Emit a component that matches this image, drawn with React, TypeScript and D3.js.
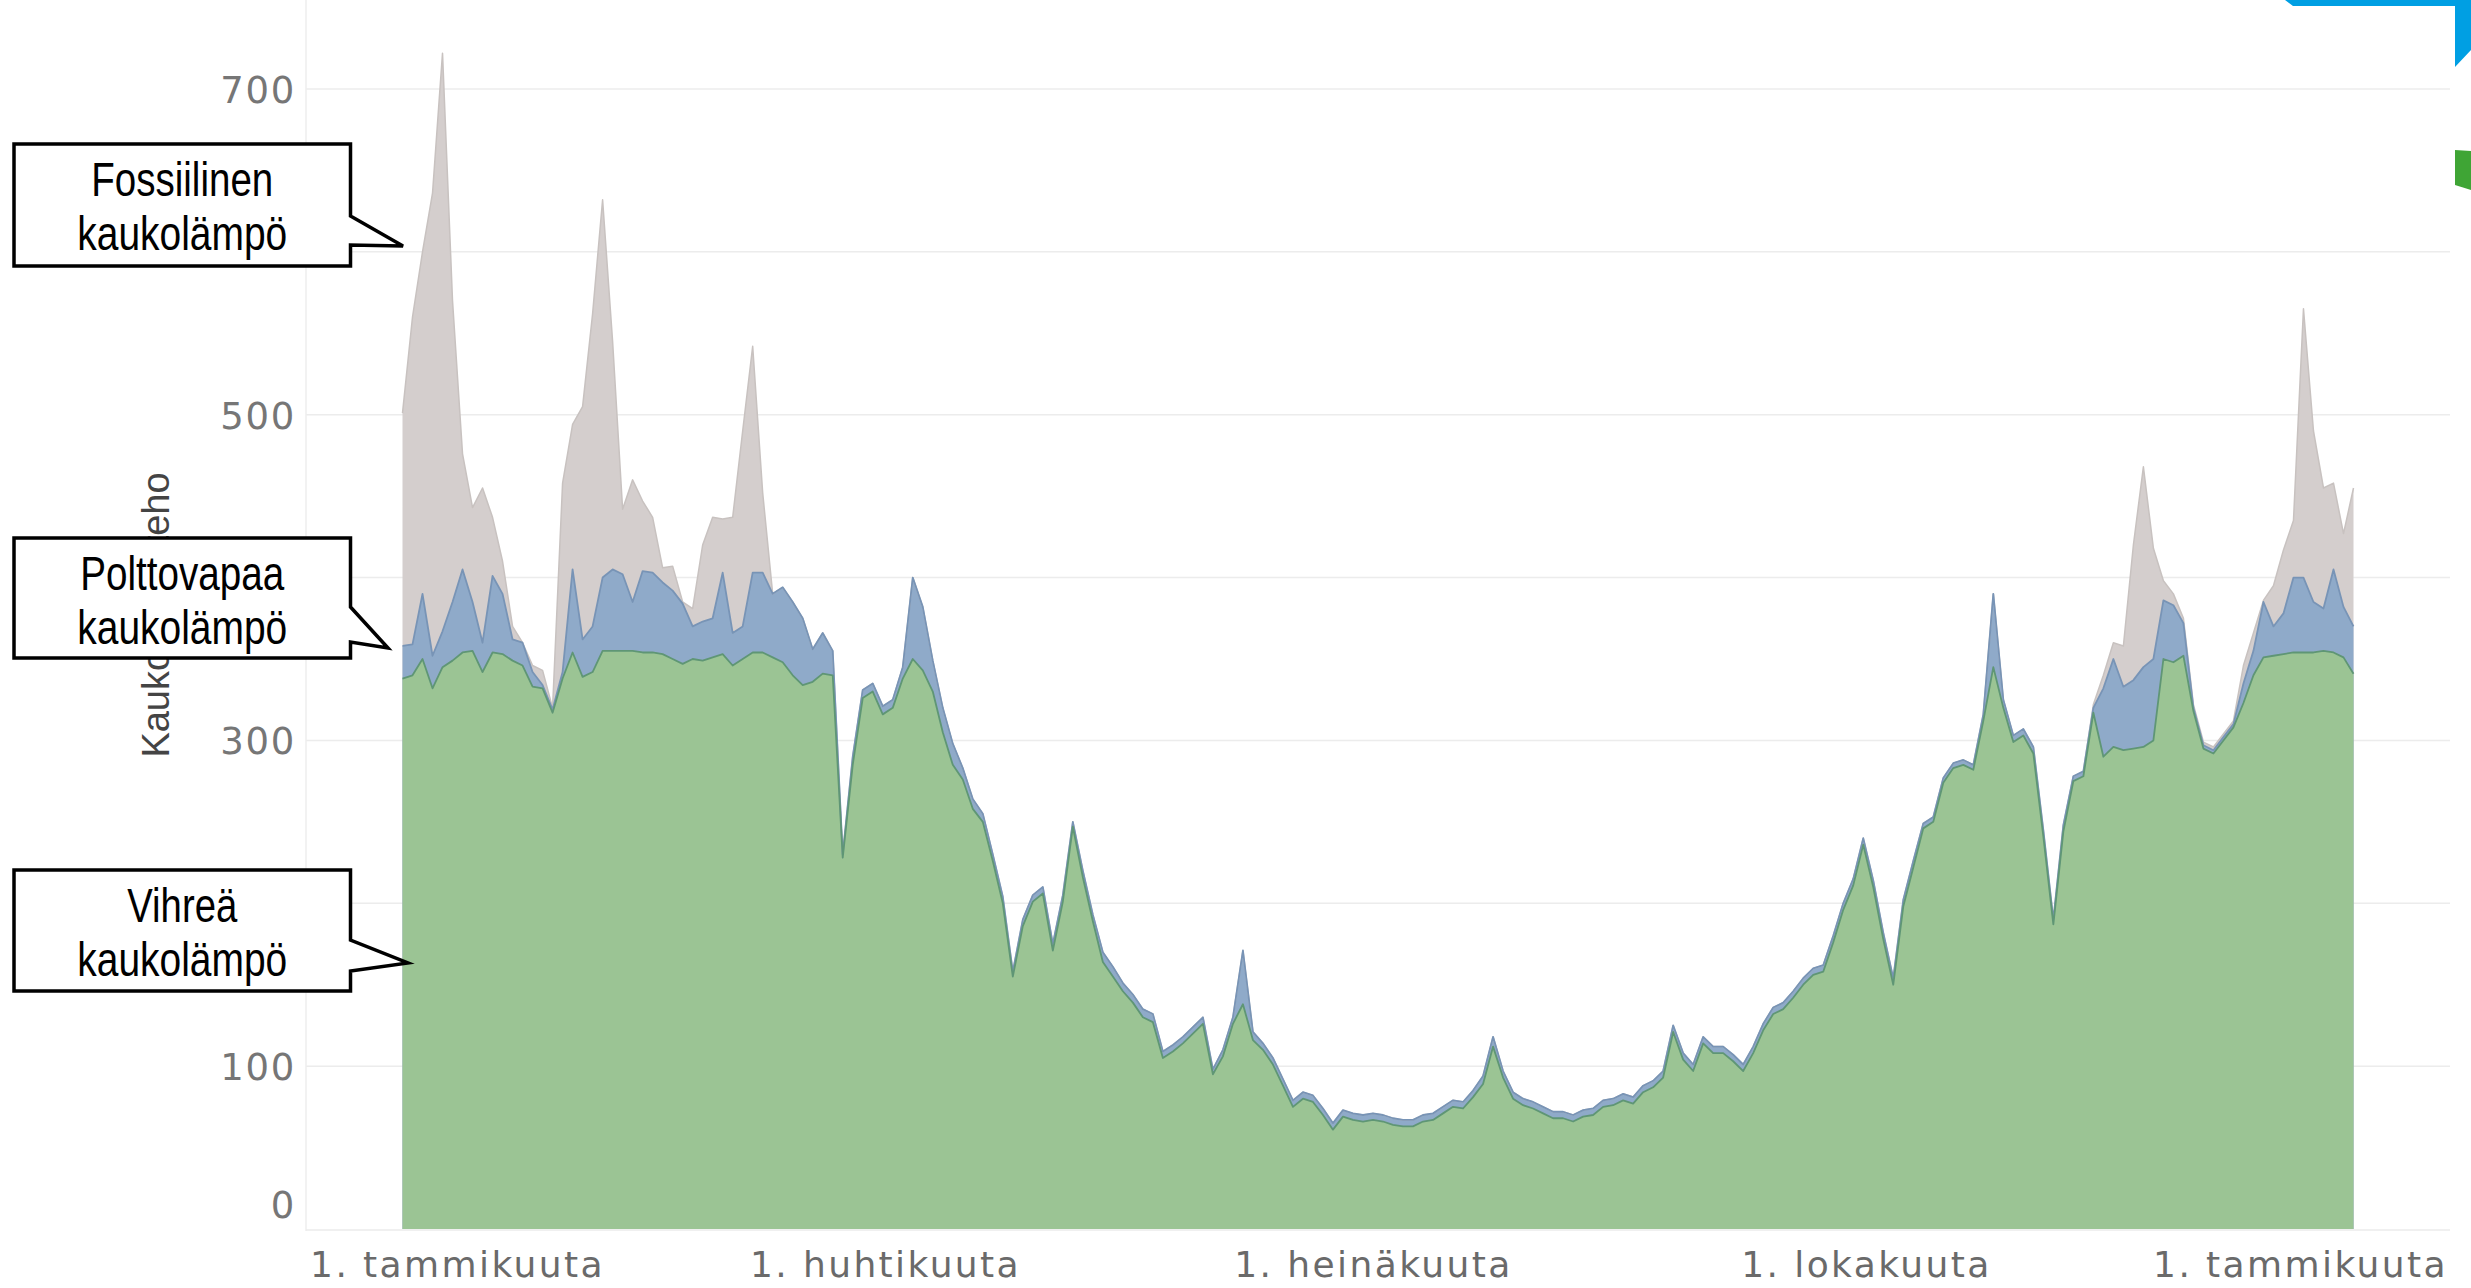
import React, { useEffect, useRef } from "react";
import * as d3 from "d3";

const W = 2471;
const H = 1288;

// Samples every ~2 days across the year (MW)
const vihrea = [
  338, 340, 350, 332, 345, 349, 354, 355, 342, 354,
  353, 349, 346, 333, 332, 317, 338, 354, 339, 342,
  355, 355, 355, 355, 354, 354, 353, 350, 347, 350,
  349, 351, 353, 346, 350, 354, 354, 351, 348, 340,
  334, 336, 341, 340, 228, 285, 326, 330, 316, 320,
  338, 350, 343, 330, 305, 285, 276, 258, 250, 226,
  200, 155, 186, 201, 206, 171, 201, 247, 216, 189,
  164, 155, 146, 139, 130, 127, 105, 109, 114, 120,
  126, 95, 106, 126, 138, 116, 110, 101, 88, 75,
  80, 78, 70, 61, 69, 67, 66, 67, 66, 64,
  63, 63, 66, 67, 71, 75, 74, 81, 89, 112,
  93, 80, 76, 74, 71, 68, 68, 66, 69, 70,
  75, 76, 79, 77, 84, 87, 93, 121, 104, 97,
  114, 108, 108, 103, 97, 108, 122, 132, 135, 142,
  150, 156, 158, 176, 196, 211, 236, 210, 178, 150,
  198, 222, 246, 250, 274, 283, 285, 282, 312, 345,
  320, 299, 303, 292, 241, 187, 244, 275, 278, 317,
  290, 296, 294, 295, 296, 300, 350, 348, 352, 318,
  295, 292, 300, 308, 323, 340, 351, 352, 353, 354,
  354, 354, 355, 354, 351, 341,
];

const polttovapaa = [
  20, 19, 40, 20, 22, 36, 51, 30, 18, 47,
  37, 13, 14, 9, 2, 2, 4, 51, 23, 28,
  45, 50, 47, 30, 50, 49, 44, 42, 37, 20,
  24, 24, 50, 20, 20, 49, 49, 39, 46, 45,
  41, 20, 25, 15, 2, 5, 5, 5, 5, 5,
  7, 50, 39, 19, 15, 13, 7, 6, 5, 4,
  4, 3, 4, 4, 4, 4, 4, 3, 4, 4,
  6, 6, 5, 5, 5, 5, 4, 4, 4, 4,
  4, 3, 4, 4, 33, 5, 4, 4, 4, 4,
  4, 4, 4, 4, 4, 4, 4, 4, 4, 4,
  4, 4, 4, 4, 4, 4, 4, 4, 5, 6,
  4, 4, 4, 4, 4, 4, 4, 4, 4, 4,
  4, 4, 4, 4, 4, 4, 4, 4, 4, 4,
  4, 4, 4, 4, 4, 4, 4, 4, 4, 4,
  4, 4, 4, 4, 4, 4, 4, 4, 4, 4,
  4, 4, 3, 3, 3, 3, 3, 3, 4, 45,
  5, 4, 4, 4, 4, 3, 4, 3, 3, 3,
  42, 54, 39, 42, 49, 50, 36, 35, 20, 2,
  2, 2, 2, 2, 12, 15, 34, 18, 25, 46,
  46, 31, 26, 51, 31, 29,
];

const fossiilinen = [
  143, 201, 210, 284, 355, 185, 71, 58, 95, 36,
  20, 8, 0, 4, 9, 1, 116, 89, 143, 192,
  232, 140, 40, 75, 43, 34, 9, 15, 1, 11,
  47, 62, 33, 71, 120, 139, 49, 0, 0, 0,
  0, 0, 0, 0, 0, 0, 0, 0, 0, 0,
  0, 0, 0, 0, 0, 0, 0, 0, 0, 0,
  0, 0, 0, 0, 0, 0, 0, 0, 0, 0,
  0, 0, 0, 0, 0, 0, 0, 0, 0, 0,
  0, 0, 0, 0, 0, 0, 0, 0, 0, 0,
  0, 0, 0, 0, 0, 0, 0, 0, 0, 0,
  0, 0, 0, 0, 0, 0, 0, 0, 0, 0,
  0, 0, 0, 0, 0, 0, 0, 0, 0, 0,
  0, 0, 0, 0, 0, 0, 0, 0, 0, 0,
  0, 0, 0, 0, 0, 0, 0, 0, 0, 0,
  0, 0, 0, 0, 0, 0, 0, 0, 0, 0,
  0, 0, 0, 0, 0, 0, 0, 0, 0, 0,
  0, 0, 0, 0, 0, 0, 0, 0, 0, 2,
  8, 10, 25, 83, 123, 68, 12, 7, 3, 2,
  2, 2, 2, 2, 11, 11, 1, 25, 39, 35,
  165, 105, 74, 53, 45, 85,
];

const tickDates = [
  new Date(2021, 0, 1),
  new Date(2021, 3, 1),
  new Date(2021, 6, 1),
  new Date(2021, 9, 1),
  new Date(2022, 0, 1),
];
const tickLabels = ["1. tammikuuta", "1. huhtikuuta", "1. heinäkuuta", "1. lokakuuta", "1. tammikuuta"];
const yTickValues = [0, 100, 300, 500, 700];
const gridValues = [100, 200, 300, 400, 500, 600, 700];
const seriesKeys = ["vihrea", "polttovapaa", "fossiilinen"];
const seriesFill: Record<string, string> = {
  vihrea: "#9bc494",
  polttovapaa: "#8faac9",
  fossiilinen: "#d4cecd",
};
const seriesLine: Record<string, string> = {
  vihrea: "#5f9675",
  polttovapaa: "#7894b6",
  fossiilinen: "#c8c2c0",
};

const callouts = [
  { lines: ["Fossiilinen", "kaukolämpö"], widths: [182, 210], top: 144, bottom: 266, pTop: 216, pBot: 245, tipX: 403, tipY: 246 },
  { lines: ["Polttovapaa", "kaukolämpö"], widths: [204, 210], top: 538, bottom: 658, pTop: 607, pBot: 642, tipX: 388, tipY: 648 },
  { lines: ["Vihreä", "kaukolämpö"], widths: [110, 210], top: 870, bottom: 991, pTop: 940, pBot: 971, tipX: 408, tipY: 963 },
];

export default function App() {
  const ref = useRef<SVGGElement>(null);

  useEffect(() => {
    const svg = d3.select(ref.current);
    svg.selectAll("*").remove();

    const plotLeft = 306;
    const plotRight = 2450;
    const y = d3.scaleLinear().domain([0, 700]).range([1229, 89]);
    const xi = d3.scaleLinear().domain([0, vihrea.length - 1]).range([402.5, 2353.5]);
    const xt = d3.scaleTime().domain(tickDates).range([457, 885, 1373, 1866, 2300]);

    // gridlines
    svg.append("g")
      .selectAll("line")
      .data(gridValues)
      .join("line")
      .attr("x1", plotLeft)
      .attr("x2", plotRight)
      .attr("y1", (d) => y(d))
      .attr("y2", (d) => y(d))
      .attr("stroke", "#ececec")
      .attr("stroke-width", 1.5);

    svg.append("line")
      .attr("x1", plotLeft).attr("x2", plotLeft)
      .attr("y1", 0).attr("y2", y(0) + 2)
      .attr("stroke", "#eeeeee").attr("stroke-width", 1.5);
    svg.append("line")
      .attr("x1", plotLeft).attr("x2", plotRight)
      .attr("y1", y(0) + 1).attr("y2", y(0) + 1)
      .attr("stroke", "#ebebeb").attr("stroke-width", 1.5);

    // stacked data
    const rows = vihrea.map((v, i) => ({
      i,
      vihrea: v,
      polttovapaa: polttovapaa[i],
      fossiilinen: fossiilinen[i],
    }));
    const stacked = d3.stack<any>().keys(seriesKeys)(rows);

    const areaGen = d3.area<any>()
      .x((d: any) => xi(d.data.i))
      .y0(y(0))
      .y1((d: any) => y(d[1]));
    const lineGen = d3.line<any>()
      .x((d: any) => xi(d.data.i))
      .y((d: any) => y(d[1]));

    const gArea = svg.append("g");
    [...stacked].reverse().forEach((s) => {
      gArea.append("path")
        .attr("d", areaGen(s as any) as string)
        .attr("fill", seriesFill[s.key]);
    });
    [...stacked].reverse().forEach((s) => {
      gArea.append("path")
        .attr("d", lineGen(s as any) as string)
        .attr("fill", "none")
        .attr("stroke", seriesLine[s.key])
        .attr("stroke-width", s.key === "fossiilinen" ? 1.5 : 1.8)
        .attr("stroke-linejoin", "round");
    });

    // y axis labels
    const yAxis = svg.append("g")
      .attr("transform", `translate(296,0)`)
      .call(
        d3.axisLeft(y)
          .tickValues(yTickValues)
          .tickSize(0)
          .tickPadding(0)
          .tickFormat(d3.format("d") as any)
      );
    yAxis.select(".domain").remove();
    yAxis.selectAll("text")
      .attr("font-family", "'DejaVu Sans', sans-serif")
      .attr("font-size", 37)
      .attr("letter-spacing", 1.7)
      .attr("fill", "#767676")
      .attr("dy", (d: any) => (d === 0 ? "-0.3em" : "0.36em"));

    // x axis labels
    const xAxis = svg.append("g")
      .attr("transform", `translate(0,${y(0)})`)
      .call(
        d3.axisBottom(xt)
          .tickValues(tickDates)
          .tickSize(0)
          .tickPadding(22)
          .tickFormat((_d: any, i: number) => tickLabels[i])
      );
    xAxis.select(".domain").remove();
    xAxis.selectAll("text")
      .attr("font-family", "'DejaVu Sans', sans-serif")
      .attr("font-size", 36)
      .attr("letter-spacing", 2.4)
      .attr("fill", "#6a6a6a");

    // y-axis title
    svg.append("text")
      .attr("transform", "translate(169,615) rotate(-90)")
      .attr("text-anchor", "middle")
      .attr("font-family", "'Liberation Sans', Arial, sans-serif")
      .attr("font-size", 38)
      .attr("fill", "#444")
      .text("Kaukolämpöteho");

    // callouts
    const left = 14;
    const right = 350.5;
    const gC = svg.append("g");
    callouts.forEach((c) => {
      const p = d3.path();
      p.moveTo(left, c.top);
      p.lineTo(right, c.top);
      p.lineTo(right, c.pTop);
      p.lineTo(c.tipX, c.tipY);
      p.lineTo(right, c.pBot);
      p.lineTo(right, c.bottom);
      p.lineTo(left, c.bottom);
      p.closePath();
      gC.append("path")
        .attr("d", p.toString())
        .attr("fill", "#fff")
        .attr("stroke", "#000")
        .attr("stroke-width", 3.5)
        .attr("stroke-linejoin", "miter");
      c.lines.forEach((ln, k) => {
        gC.append("text")
          .attr("x", (left + right) / 2)
          .attr("y", c.top + 52 + k * 54)
          .attr("text-anchor", "middle")
          .attr("font-family", "'Liberation Sans Narrow', 'Arial Narrow', 'Liberation Sans', sans-serif")
          .attr("font-size", 49)
          .attr("fill", "#000")
          .attr("textLength", c.widths[k])
          .attr("lengthAdjust", "spacingAndGlyphs")
          .text(ln);
      });
    });
  }, []);

  return (
    <>
      <style>{"body{margin:0;background:#fff}"}</style>
      <svg width={W} height={H} style={{ display: "block", background: "#fff" }}>
        <g ref={ref} />
        <polygon points="2285,0 2471,0 2471,50 2455,67 2455,6 2293,6" fill="#009fe3" />
        <polygon points="2455,150 2471,151 2471,190 2455,185" fill="#3fa535" />
      </svg>
    </>
  );
}
